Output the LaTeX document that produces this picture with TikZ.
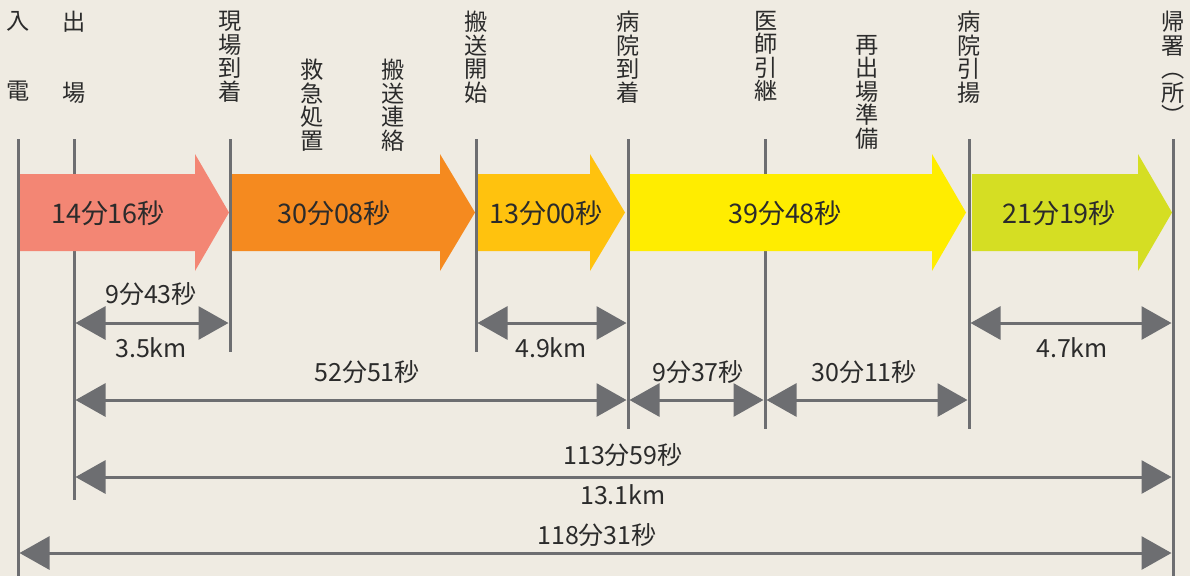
\documentclass[tikz,border=0pt]{standalone}
\usepackage{fontspec}
\setmainfont{Noto Sans CJK JP}
\usetikzlibrary{arrows.meta}
\definecolor{bg}{HTML}{EFEBE2}
\definecolor{ln}{HTML}{6D6E71}
\definecolor{txt}{HTML}{2B2B2B}
\definecolor{ca}{HTML}{F38674}
\definecolor{cb}{HTML}{F58A1F}
\definecolor{cc}{HTML}{FFC20E}
\definecolor{cd}{HTML}{FFED00}
\definecolor{ce}{HTML}{D5DE23}
\begin{document}
\begin{tikzpicture}[x=0.75pt,y=-0.75pt,
  vline/.style={draw=ln, line width=2.25pt},
  dimarrow/.style={draw=ln, line width=2.25pt,
    {Triangle[length=22.5pt,width=24.75pt]}-{Triangle[length=22.5pt,width=24.75pt]}},
  vlab/.style={font=\fontsize{17.4pt}{17.6pt}\selectfont, align=center, anchor=north, inner sep=0pt, text=txt},
  atext/.style={font=\fontsize{20.25pt}{22pt}\selectfont, text=txt, inner sep=0pt},
  dlab/.style={font=\fontsize{18.75pt}{20pt}\selectfont, text=txt, inner sep=0pt}]
\fill[bg] (0,0) rectangle (1190,576);
\useasboundingbox (0,0) rectangle (1190,576);
% vertical lines
\foreach \n/\x/\b in {1/18/576, 2/74/500, 3/230/352, 4/476/352, 5/628/429, 6/765/429, 7/969/429, 8/1173/576}{
  \coordinate (t\n) at (\x,139);
  \coordinate (b\n) at (\x,\b);
}
\foreach \n in {1,...,8}{ \draw[vline] (t\n) -- (b\n); }
% big arrows
\fill[ca] (20,174) -- (195,174) -- (195,154) -- (229,212.5) -- (195,271) -- (195,251) -- (20,251) -- cycle;
\fill[cb] (232,174) -- (440,174) -- (440,154) -- (475,212.5) -- (440,271) -- (440,251) -- (232,251) -- cycle;
\fill[cc] (478,174) -- (590,174) -- (590,154) -- (625,212.5) -- (590,271) -- (590,251) -- (478,251) -- cycle;
\fill[cd] (630,174) -- (932,174) -- (932,154) -- (966,212.5) -- (932,271) -- (932,251) -- (630,251) -- cycle;
\fill[ce] (972,174) -- (1138,174) -- (1138,154) -- (1172,212.5) -- (1138,271) -- (1138,251) -- (972,251) -- cycle;
\node[atext] (a1) at (108,213) {14分16秒};
\node[atext] (a2) at (334,213) {30分08秒};
\node[atext] (a3) at (546,213) {13分00秒};
\node[atext] (a4) at (785,213) {39分48秒};
\node[atext] (a5) at (1059,213) {21分19秒};
% vertical labels
\node[vlab] (v1) at (18,11) {入\\[35.25pt]電};
\node[vlab] (v2) at (74,11) {出\\[35.25pt]場};
\node[vlab] (v3) at (230,11) {現\\場\\到\\着};
\node[vlab] (v4) at (312,59) {救\\急\\処\\置};
\node[vlab] (v5) at (393,59) {搬\\送\\連\\絡};
\node[vlab] (v6) at (476,11) {搬\\送\\開\\始};
\node[vlab] (v7) at (628,11) {病\\院\\到\\着};
\node[vlab] (v8) at (766,11) {医\\師\\引\\継};
\node[vlab] (v9) at (867,35) {再\\出\\場\\準\\備};
\node[vlab] (v10) at (969,11) {病\\院\\引\\揚};
\node[vlab] (v11) at (1173,11) {帰\\署\\︵\\所\\︶};
% dimension arrows
\coordinate (d1a) at (75.5,323);  \coordinate (d1b) at (228.5,323);
\coordinate (d2a) at (477.5,323); \coordinate (d2b) at (626.5,323);
\coordinate (d3a) at (970.5,323); \coordinate (d3b) at (1171.5,323);
\coordinate (d4a) at (75.5,400);  \coordinate (d4b) at (626.5,400);
\coordinate (d5a) at (629.5,400); \coordinate (d5b) at (763.5,400);
\coordinate (d6a) at (766.5,400); \coordinate (d6b) at (967.5,400);
\coordinate (d7a) at (75.5,477);  \coordinate (d7b) at (1171.5,477);
\coordinate (d8a) at (19.5,553);  \coordinate (d8b) at (1171.5,553);
\foreach \n in {1,...,8}{ \draw[dimarrow] (d\n a) -- (d\n b); }
% dimension labels
\node[dlab] (l1) at (151,294) {9分43秒};
\node[dlab] (l2) at (151,348) {3.5km};
\node[dlab] (l3) at (551,348) {4.9km};
\node[dlab] (l4) at (1072,348) {4.7km};
\node[dlab] (l5) at (367,372) {52分51秒};
\node[dlab] (l6) at (698,372) {9分37秒};
\node[dlab] (l7) at (864,372) {30分11秒};
\node[dlab] (l8) at (623,455) {113分59秒};
\node[dlab] (l9) at (623,495) {13.1km};
\node[dlab] (l10) at (597,535) {118分31秒};
\end{tikzpicture}
\end{document}
